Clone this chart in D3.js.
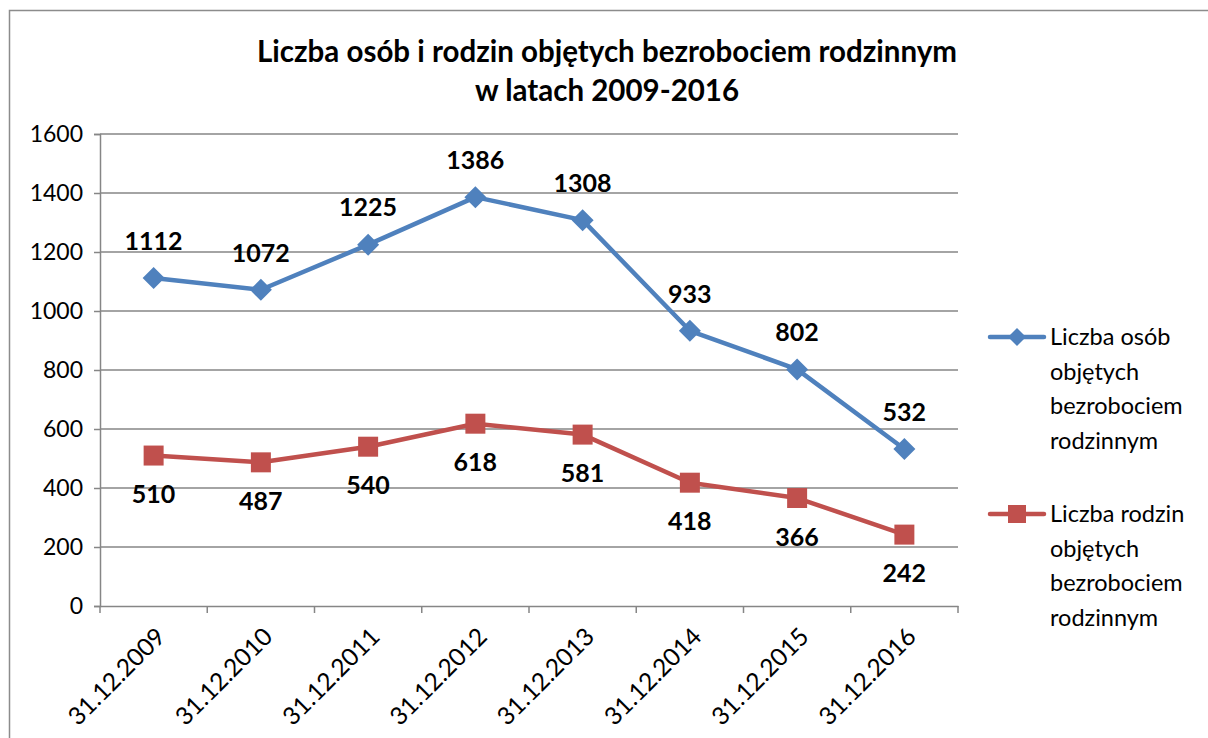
<!DOCTYPE html>
<html>
<head>
<meta charset="utf-8">
<script src="https://cdn.jsdelivr.net/npm/d3@7"></script>
<style>
  body { margin: 0; background: #fff; overflow: hidden; }
  svg { display: block; }
  text { font-family: Lato, "Open Sans", sans-serif; }
</style>
</head>
<body>
<div id="line-chart"></div>
<script>
const categories = ["31.12.2009", "31.12.2010", "31.12.2011", "31.12.2012", "31.12.2013", "31.12.2014", "31.12.2015", "31.12.2016"]
const persons = [1112, 1072, 1225, 1386, 1308, 933, 802, 532]
const families = [510, 487, 540, 618, 581, 418, 366, 242]
const yTicks = [0, 200, 400, 600, 800, 1000, 1200, 1400, 1600]
const titleLines = ["Liczba osób i rodzin objętych bezrobociem rodzinnym", "w latach 2009-2016"]
const legendPersons = ["Liczba osób", "objętych", "bezrobociem", "rodzinnym"]
const legendFamilies = ["Liczba rodzin", "objętych", "bezrobociem", "rodzinnym"]

const blue = "#4F81BD"
const red = "#C0504D"
const grid = "#868686"

const width = 1208
const height = 738
const margin = { top: 134, right: 250, bottom: 132, left: 100 }
const innerWidth = width - margin.left - margin.right
const innerHeight = height - margin.top - margin.bottom

const svg = d3.select("#line-chart")
  .append("svg")
    .attr("width", width)
    .attr("height", height)

// chart frame (only left and top edges are visible)
svg.append("path")
  .attr("d", `M9.5,${height}V10.5H${width}`)
  .attr("fill", "none")
  .attr("stroke", "#8c8c8c")
  .attr("stroke-width", 1.5)

svg.append("text")
  .attr("text-anchor", "middle")
  .attr("font-weight", "bold")
  .attr("font-size", 29.5)
  .selectAll("tspan")
  .data(titleLines)
  .join("tspan")
    .attr("x", 607)
    .attr("y", (d, i) => 62 + i * 39)
    .text(d => d)

const chart = svg.append("g")
  .attr("transform", `translate(${margin.left}, ${margin.top})`)

const xScale = d3.scaleBand()
  .domain(categories)
  .range([0, innerWidth])

const yScale = d3.scaleLinear()
  .domain([0, 1600])
  .range([innerHeight, 0])

// gridlines
chart.append("g")
  .selectAll("line")
  .data(yTicks.filter(d => d > 0))
  .join("line")
    .attr("x1", 0).attr("x2", innerWidth)
    .attr("y1", d => yScale(d)).attr("y2", d => yScale(d))
    .attr("stroke", grid)
    .attr("stroke-width", 1.5)

const yAxis = d3.axisLeft(yScale).tickValues(yTicks).tickFormat(d3.format("d")).tickSize(6).tickPadding(11)
const yG = chart.append("g").call(yAxis)
yG.selectAll("path, line").attr("stroke", grid).attr("stroke-width", 1.5)
yG.selectAll("text").attr("font-size", 23).attr("fill", "#000").style("font-family", "Lato, sans-serif")

const xAxis = d3.axisBottom(xScale).tickSize(0).tickFormat("")
const xG = chart.append("g")
  .attr("transform", `translate(0, ${innerHeight})`)
  .call(xAxis)
xG.select("path").attr("stroke", grid).attr("stroke-width", 1.5)

// ticks at band boundaries
xG.selectAll(".bound")
  .data(d3.range(categories.length + 1))
  .join("line")
    .attr("x1", i => i * xScale.step()).attr("x2", i => i * xScale.step())
    .attr("y1", 0).attr("y2", 7)
    .attr("stroke", grid)
    .attr("stroke-width", 1.5)

const cx = d => xScale(d) + xScale.bandwidth() / 2

chart.append("g")
  .selectAll("text")
  .data(categories)
  .join("text")
    .attr("transform", d => `translate(${cx(d) + 1}, ${innerHeight + 20}) rotate(-45)`)
    .attr("text-anchor", "end")
    .attr("dy", "0.7em")
    .attr("font-size", 24.5)
    .text(d => d)

const line = d3.line()
  .x((d, i) => cx(categories[i]))
  .y(d => yScale(d))

const drawSeries = (values, color, marker, labelOffset) => {
  chart.append("path")
    .attr("d", line(values))
    .attr("fill", "none")
    .attr("stroke", color)
    .attr("stroke-width", 4.5)
    .attr("stroke-linejoin", "round")

  chart.append("g")
    .selectAll("path")
    .data(values)
    .join("path")
      .attr("transform", (d, i) => `translate(${cx(categories[i])}, ${yScale(d)})`)
      .attr("d", marker)
      .attr("fill", color)

  chart.append("g")
    .selectAll("text")
    .data(values)
    .join("text")
      .attr("x", (d, i) => cx(categories[i]))
      .attr("y", d => yScale(d) + labelOffset)
      .attr("text-anchor", "middle")
      .attr("dy", "0.35em")
      .attr("font-size", 25)
      .attr("font-weight", "bold")
      .text(d => d)
}

const diamond = "M0,-11L11,0L0,11L-11,0Z"
const square = "M-10,-10H10V10H-10Z"

drawSeries(persons, blue, diamond, -37)
drawSeries(families, red, square, 39)

// legend
const legendEntry = (lines, color, marker, y) => {
  const g = svg.append("g").attr("transform", `translate(990, ${y})`)
  g.append("line")
    .attr("x1", 0).attr("x2", 54)
    .attr("stroke", color)
    .attr("stroke-width", 4.5)
    .attr("stroke-linecap", "round")
  g.append("path")
    .attr("transform", "translate(27, 0)")
    .attr("d", marker)
    .attr("fill", color)
  g.append("text")
    .attr("font-size", 23.5)
    .selectAll("tspan")
    .data(lines)
    .join("tspan")
      .attr("x", 60)
      .attr("y", (d, i) => i * 34.5)
      .attr("dy", "0.35em")
      .text(d => d)
}

legendEntry(legendPersons, blue, "M0,-9L9,0L0,9L-9,0Z", 337)
legendEntry(legendFamilies, red, "M-9,-9H9V9H-9Z", 514)
</script>
</body>
</html>
